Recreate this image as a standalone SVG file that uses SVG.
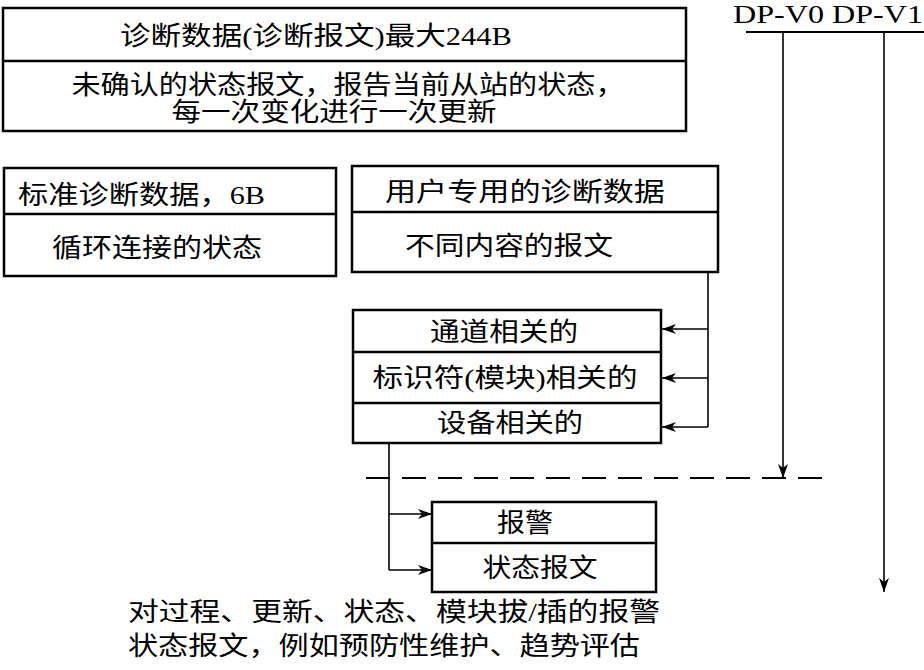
<svg xmlns="http://www.w3.org/2000/svg" width="924" height="670" viewBox="0 0 924 670">
<style>
.box{fill:#fff;stroke:#000;stroke-width:2.5}
.div{stroke:#000;stroke-width:2.5}
.t{font-family:"Liberation Serif","Noto Sans CJK SC",serif;font-size:26px;fill:#000}
.c{stroke:#000;stroke-width:1.6;fill:none}
.dash{stroke:#000;stroke-width:2;stroke-dasharray:24,12;fill:none}
</style>
<defs>
<marker id="ah" viewBox="0 0 14 10" refX="14" refY="5" markerWidth="14" markerHeight="10" markerUnits="userSpaceOnUse" orient="auto">
<path d="M0,0 L14,5 L0,10 L4,5 Z" fill="#000"/>
</marker>
</defs>
<rect width="924" height="670" fill="#fff"/>

<g id="node-main">
<rect class="box" x="3" y="8" width="683" height="123"/>
<line class="div" x1="3" y1="61" x2="686" y2="61"/>
<text class="t" x="316" y="45" text-anchor="middle" textLength="392" lengthAdjust="spacingAndGlyphs">诊断数据(诊断报文)最大244B</text>
<text class="t" x="348" y="94" text-anchor="middle" textLength="553" lengthAdjust="spacingAndGlyphs">未确认的状态报文，报告当前从站的状态，</text>
<text class="t" x="334" y="121" text-anchor="middle" textLength="325" lengthAdjust="spacingAndGlyphs">每一次变化进行一次更新</text>
</g>

<g id="node-dp">
<text class="t" x="733" y="23" textLength="190" lengthAdjust="spacingAndGlyphs">DP-V0 DP-V1</text>
</g>

<g id="node-std">
<rect class="box" x="4" y="168" width="332" height="108"/>
<line class="div" x1="4" y1="214" x2="336" y2="214"/>
<text class="t" x="18" y="204" textLength="247" lengthAdjust="spacingAndGlyphs">标准诊断数据，6B</text>
<text class="t" x="157" y="257" text-anchor="middle" textLength="210" lengthAdjust="spacingAndGlyphs">循环连接的状态</text>
</g>

<g id="node-user">
<rect class="box" x="352" y="166" width="366" height="106"/>
<line class="div" x1="352" y1="212" x2="718" y2="212"/>
<text class="t" x="525" y="201" text-anchor="middle" textLength="280" lengthAdjust="spacingAndGlyphs">用户专用的诊断数据</text>
<text class="t" x="509" y="255" text-anchor="middle" textLength="208" lengthAdjust="spacingAndGlyphs">不同内容的报文</text>
</g>

<g id="node-related">
<rect class="box" x="353" y="310" width="308" height="133"/>
<line class="div" x1="353" y1="352" x2="661" y2="352"/>
<line class="div" x1="353" y1="403" x2="661" y2="403"/>
<text class="t" x="504" y="341" text-anchor="middle" textLength="148" lengthAdjust="spacingAndGlyphs">通道相关的</text>
<text class="t" x="505" y="387" text-anchor="middle" textLength="265" lengthAdjust="spacingAndGlyphs">标识符(模块)相关的</text>
<text class="t" x="510" y="432" text-anchor="middle" textLength="146" lengthAdjust="spacingAndGlyphs">设备相关的</text>
</g>

<g id="node-alarm">
<rect class="box" x="432" y="502" width="224" height="90"/>
<line class="div" x1="432" y1="543" x2="656" y2="543"/>
<text class="t" x="525" y="532" text-anchor="middle" textLength="56" lengthAdjust="spacingAndGlyphs">报警</text>
<text class="t" x="540" y="577" text-anchor="middle" textLength="115" lengthAdjust="spacingAndGlyphs">状态报文</text>
</g>

<g id="node-notes">
<text class="t" x="128" y="621" textLength="532" lengthAdjust="spacingAndGlyphs">对过程、更新、状态、模块拔/插的报警</text>
<text class="t" x="128" y="655" textLength="512" lengthAdjust="spacingAndGlyphs">状态报文，例如预防性维护、趋势评估</text>
</g>

<g id="connectors">
<line class="c" x1="746" y1="32" x2="924" y2="32" style="stroke-width:2.2"/>
<line class="c" x1="783" y1="32" x2="783" y2="478" marker-end="url(#ah)"/>
<line class="c" x1="884" y1="32" x2="884" y2="592" marker-end="url(#ah)"/>
<line class="dash" x1="366" y1="478" x2="826" y2="478"/>
<path class="c" d="M708,272 V427"/>
<line class="c" x1="708" y1="329" x2="662" y2="329" marker-end="url(#ah)"/>
<line class="c" x1="708" y1="378" x2="662" y2="378" marker-end="url(#ah)"/>
<line class="c" x1="708" y1="427" x2="662" y2="427" marker-end="url(#ah)"/>
<path class="c" d="M389,443 V570"/>
<line class="c" x1="389" y1="514" x2="432" y2="514" marker-end="url(#ah)"/>
<line class="c" x1="389" y1="570" x2="432" y2="570" marker-end="url(#ah)"/>
</g>
</svg>
